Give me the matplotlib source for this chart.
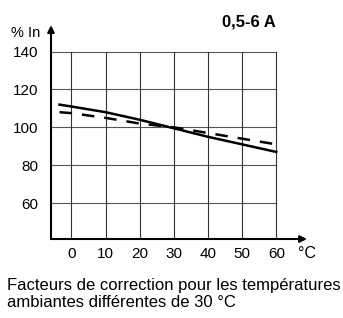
import matplotlib.pyplot as plt

# temperature (°C) vs % In
temp = [-3.5, 0, 10, 20, 30, 40, 50, 60]
solid_pct = [112, 111, 108, 104, 99.5, 95, 91, 87]
dashed_pct = [108, 107.5, 105, 102, 100, 97, 94, 91]

x_ticks = [0, 10, 20, 30, 40, 50, 60]
y_ticks = [60, 80, 100, 120, 140]

plt.rcParams['font.family'] = 'Liberation Sans'

fig = plt.figure(figsize=(3.43, 3.18), dpi=100)
ax = fig.add_axes([0.1487, 0.2484, 0.7463, 0.6726])
x0, x1 = -6, 69
y0, y1 = 41, 154
ax.set_xlim(x0, x1)
ax.set_ylim(y0, y1)

# grid box (only inside 0..60 / up to 140)
for y in y_ticks:
    ax.plot([x0, 60], [y, y], color='#555555', lw=0.8, zorder=1)
for x in x_ticks:
    ax.plot([x, x], [y0, 140], color='#333333', lw=0.8, zorder=1)

ax.plot(temp, solid_pct, color='black', lw=1.8, zorder=3)
ax.plot(temp, dashed_pct, color='black', lw=1.8, dashes=(5, 4), zorder=3)

for s in ['top', 'right', 'left', 'bottom']:
    ax.spines[s].set_visible(False)

# axes with arrow heads
ax.annotate('', xy=(x1, y0), xytext=(x0, y0),
            arrowprops=dict(arrowstyle='-|>', color='black', lw=1.5,
                            mutation_scale=10, shrinkA=0, shrinkB=0),
            annotation_clip=False)
ax.annotate('', xy=(x0, y1), xytext=(x0, y0),
            arrowprops=dict(arrowstyle='-|>', color='black', lw=1.5,
                            mutation_scale=10, shrinkA=0, shrinkB=0),
            annotation_clip=False)

ax.set_xticks(x_ticks)
ax.set_yticks(y_ticks)
ax.tick_params(length=0, labelsize=11)
ax.tick_params(axis='y', pad=9)
ax.tick_params(axis='x', pad=6)

fig.text(0.118, 0.897, '% In', fontsize=10.5, ha='right', va='center')
fig.text(0.868, 0.204, '°C', fontsize=11.5, va='center')
fig.text(0.805, 0.93, '0,5-6 A', fontsize=12, fontweight='bold', ha='right', va='center')

fig.text(0.02, 0.076, 'Facteurs de correction pour les températures\nambiantes différentes de 30 °C',
         fontsize=12, va='center', linespacing=1.12)

fig.savefig('out.png', dpi=100)
